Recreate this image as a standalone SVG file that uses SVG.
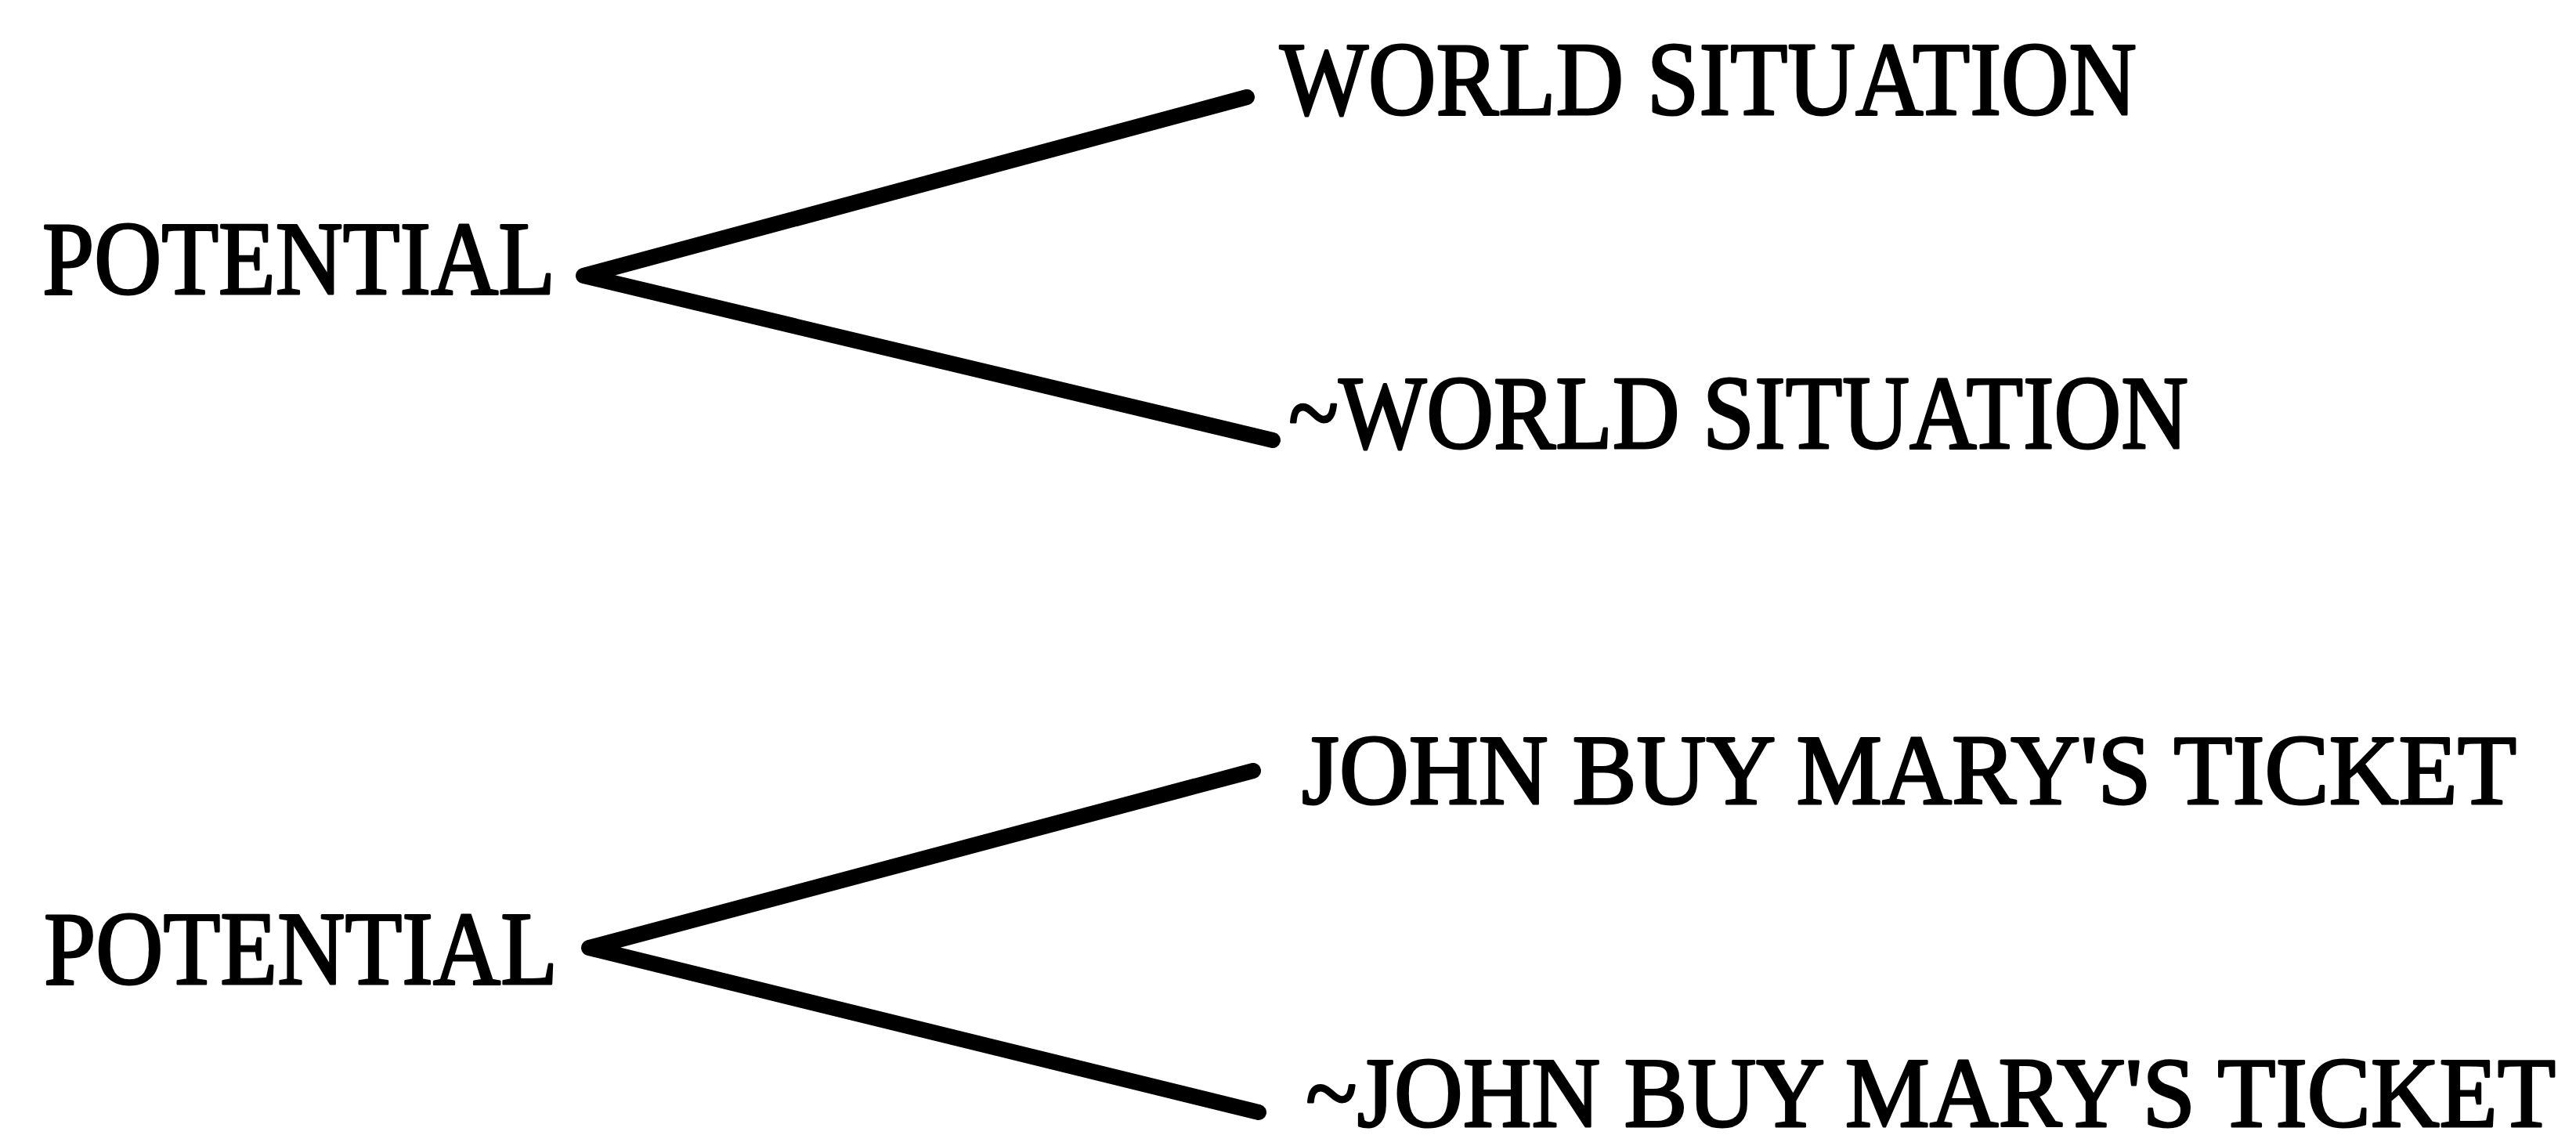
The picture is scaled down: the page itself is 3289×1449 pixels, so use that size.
<svg xmlns="http://www.w3.org/2000/svg" width="3289" height="1449" viewBox="0 0 3289 1449">
<style>
  .t { font-family: "Liberation Serif", "Times New Roman", serif; font-size: 133px; fill: #000; stroke: #000; stroke-width: 3; stroke-linejoin: round; }
  .s { font-size: 128px; }
  .c { fill: none; stroke: #000; stroke-width: 20; stroke-linecap: round; stroke-linejoin: round; }
</style>
<rect width="3289" height="1449" fill="#fff"/>
<g id="connectors">
  <polyline class="c" points="1592,124 745,352 1625,562"/>
  <polyline class="c" points="1600,984 752,1210 1607,1420"/>
</g>
<g id="node-potential-1"><text class="t" x="54" y="375" textLength="655" lengthAdjust="spacingAndGlyphs">POTENTIAL</text></g>
<g id="node-world"><text class="t" x="1634" y="146" textLength="1094" lengthAdjust="spacingAndGlyphs">WORLD SITUATION</text></g>
<g id="node-not-world"><text class="t" x="1645" y="572" textLength="1149" lengthAdjust="spacingAndGlyphs">~WORLD SITUATION</text></g>
<g id="node-potential-2"><text class="t" x="56" y="1256" textLength="656" lengthAdjust="spacingAndGlyphs">POTENTIAL</text></g>
<g id="node-john"><text class="t s" x="1662" y="1026" textLength="1551" lengthAdjust="spacingAndGlyphs">JOHN BUY MARY'S TICKET</text></g>
<g id="node-not-john"><text class="t s" x="1667" y="1438" textLength="1596" lengthAdjust="spacingAndGlyphs">~JOHN BUY MARY'S TICKET</text></g>
</svg>
